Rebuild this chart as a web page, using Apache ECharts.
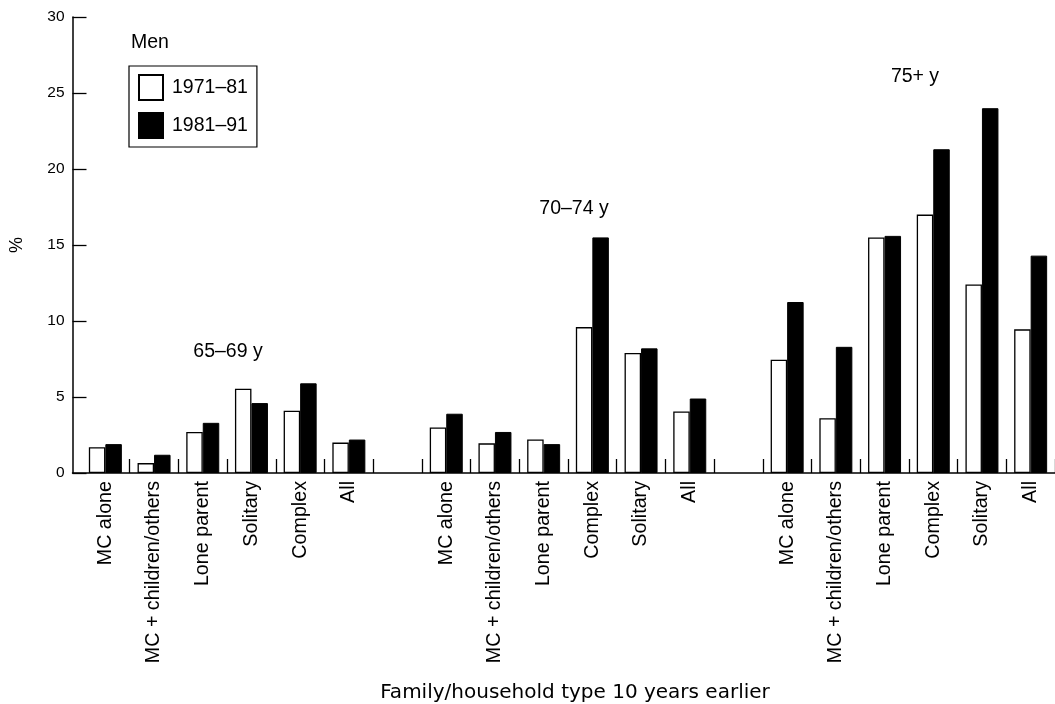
<!DOCTYPE html>
<html>
<head>
<meta charset="utf-8">
<script src="https://cdn.jsdelivr.net/npm/echarts@6/dist/echarts.min.js"></script>
<style>
  html, body { margin: 0; padding: 0; background: #fff; }
  #chart { width: 1055px; height: 704px; }
</style>
</head>
<body>
<div id="chart"></div>
<script>
// ---- data ----
const groupLabels = ['65–69 y', '70–74 y', '75+ y'];
const catsGroup1 = ['MC alone', 'MC + children/others', 'Lone parent', 'Solitary', 'Complex', 'All'];
const catsGroup2 = ['MC alone', 'MC + children/others', 'Lone parent', 'Complex', 'Solitary', 'All'];
const catsGroup3 = ['MC alone', 'MC + children/others', 'Lone parent', 'Complex', 'Solitary', 'All'];
const p7181Group1 = [1.7, 0.65, 2.7, 5.55, 4.1, 2.0];
const p8191Group1 = [1.9, 1.2, 3.3, 4.6, 5.9, 2.2];
const p7181Group2 = [3.0, 1.95, 2.2, 9.6, 7.9, 4.05];
const p8191Group2 = [3.9, 2.7, 1.9, 15.5, 8.2, 4.9];
const p7181Group3 = [7.45, 3.6, 15.5, 17.0, 12.4, 9.45];
const p8191Group3 = [11.25, 8.3, 15.6, 21.3, 24.0, 14.3];
const seriesNames = ['1971–81', '1981–91'];
const yTicks = [0, 5, 10, 15, 20, 25, 30];
const legendTitle = 'Men';
const xTitle = 'Family/household type 10 years earlier';
const yTitle = '%';

// categories with an empty slot between groups
const categories = [...catsGroup1, ' ', ...catsGroup2, '  ', ...catsGroup3];
const data7181 = [...p7181Group1, null, ...p7181Group2, null, ...p7181Group3];
const data8191 = [...p8191Group1, null, ...p8191Group2, null, ...p8191Group3];

const FONT = '"Liberation Sans", Arial, sans-serif';

const chart = echarts.init(document.getElementById('chart'), null, { renderer: 'canvas' });

const option = {
  animation: false,
  backgroundColor: '#fff',
  grid: [
    { left: 81, right: -8, top: 17, bottom: 231, containLabel: false },
    { left: 72.5, right: -8, top: 17, bottom: 231, containLabel: false }
  ],
  legend: {
    orient: 'vertical',
    left: 129,
    top: 66,
    padding: [8, 9, 8, 9],
    borderColor: '#000',
    borderWidth: 1.2,
    itemWidth: 24,
    itemHeight: 25,
    itemGap: 11,
    icon: 'rect',
    textStyle: { fontSize: 19.5, color: '#000', fontFamily: FONT, padding: [0, 0, 0, 4] },
    data: seriesNames
  },
  xAxis: [
    {
      type: 'category',
      gridIndex: 0,
      data: categories,
      boundaryGap: true,
      axisLine: { show: false },
      axisTick: {
        show: true,
        inside: true,
        length: 14,
        lineStyle: { color: '#000', width: 1.3 },
        interval: function (i) { return i !== 0; }
      },
      axisLabel: {
        rotate: 90,
        interval: 0,
        margin: 8,
        fontSize: 19.7,
        color: '#000',
        fontFamily: FONT
      },
      splitLine: { show: false }
    },
    {
      type: 'value',
      gridIndex: 1,
      min: 0,
      max: 1,
      axisLine: { show: true, lineStyle: { color: '#000', width: 1.5 } },
      axisTick: { show: false },
      axisLabel: { show: false },
      splitLine: { show: false }
    }
  ],
  yAxis: [
    {
      type: 'value',
      gridIndex: 0,
      min: yTicks[0],
      max: yTicks[yTicks.length - 1],
      interval: yTicks[1] - yTicks[0],
      offset: 8.5,
      axisLine: { show: true, lineStyle: { color: '#000', width: 1.5 } },
      axisTick: { show: true, inside: true, length: 14, lineStyle: { color: '#000', width: 1.3 } },
      axisLabel: { fontSize: 15.5, color: '#000', margin: 8, fontFamily: FONT },
      splitLine: { show: false },
      name: yTitle,
      nameLocation: 'middle',
      nameRotate: 90,
      nameGap: 46,
      nameTextStyle: { fontSize: 18, color: '#000', fontFamily: FONT }
    },
    {
      type: 'value',
      gridIndex: 1,
      show: false,
      min: 0,
      max: 1
    }
  ],
  series: [
    {
      name: seriesNames[0],
      type: 'bar',
      xAxisIndex: 0,
      yAxisIndex: 0,
      data: data7181,
      barWidth: 16.5,
      barGap: '0%',
      itemStyle: { color: '#fff', borderColor: '#000', borderWidth: 1.3 }
    },
    {
      name: seriesNames[1],
      type: 'bar',
      xAxisIndex: 0,
      yAxisIndex: 0,
      data: data8191,
      barWidth: 16.5,
      barGap: '0%',
      itemStyle: { color: '#000', borderColor: '#000', borderWidth: 1 }
    }
  ],
  graphic: [
    { type: 'text', left: 131, top: 33, style: { text: legendTitle, font: '19.5px ' + FONT, fill: '#000' } },
    { type: 'text', x: 228, y: 352, style: { text: groupLabels[0], font: '19.5px ' + FONT, fill: '#000', textAlign: 'center', textVerticalAlign: 'middle' } },
    { type: 'text', x: 574, y: 209, style: { text: groupLabels[1], font: '19.5px ' + FONT, fill: '#000', textAlign: 'center', textVerticalAlign: 'middle' } },
    { type: 'text', x: 915, y: 77, style: { text: groupLabels[2], font: '19.5px ' + FONT, fill: '#000', textAlign: 'center', textVerticalAlign: 'middle' } },
    { type: 'text', x: 575, y: 693, style: { text: xTitle, font: '20px "DejaVu Sans", sans-serif', fill: '#000', textAlign: 'center', textVerticalAlign: 'middle' } }
  ]
};

chart.setOption(option);
</script>
</body>
</html>
